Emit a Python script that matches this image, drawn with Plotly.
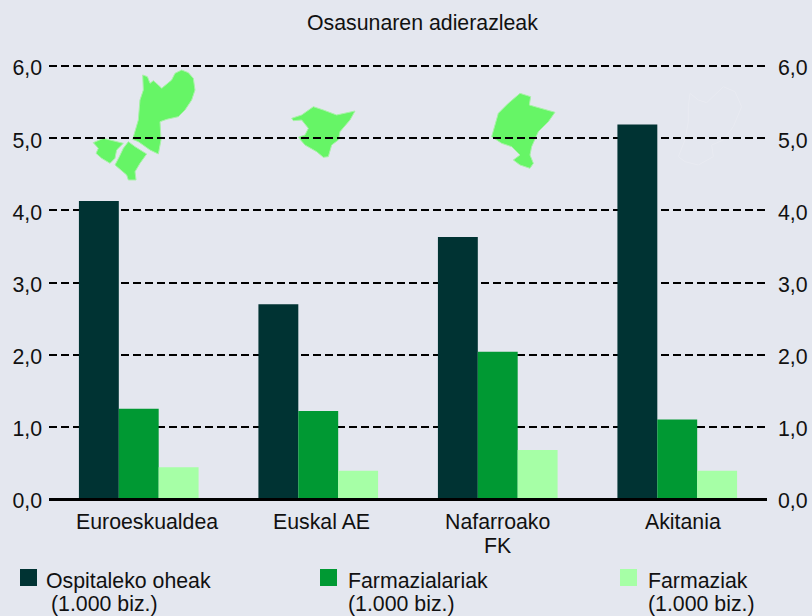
import plotly.graph_objects as go

title = "Osasunaren adierazleak"
categories = ["Euroeskualdea", "Euskal AE", "Nafarroako", "Akitania"]
category_second_line = ["", "", "FK", ""]
hospital_beds = [4.13, 2.70, 3.63, 5.19]
pharmacists = [1.25, 1.22, 2.04, 1.10]
pharmacies = [0.44, 0.39, 0.68, 0.39]
series_names = ["Ospitaleko oheak", "Farmazialariak", "Farmaziak"]
series_sub = ["(1.000 biz.)", "(1.000 biz.)", "(1.000 biz.)"]
tick_values = [0, 1, 2, 3, 4, 5, 6]
tick_labels = ["0,0", "1,0", "2,0", "3,0", "4,0", "5,0", "6,0"]

W, H = 812, 616
L, R, T, B = 49, 767, 63, 499
Y_MAX = 6 * (B - T) / (B - 66)   # a little headroom so the 6,0 gridline is drawn
BG = "#E4E7EF"
DARK, MID, LIGHT = "#003333", "#009933", "#A6FFA6"
MAP = "#66F566"
FONT = "Liberation Sans"
TXT = "#111111"
FS = 21.3


def px(x):
    return (x - L) / (R - L)


def py(y):
    return (B - y) / (B - T)


def zoom_a(p):
    return (60 + p[0] / 3, 50 + p[1] / 3)


def zoom_b(p):
    return (440 + p[0] / 3, 50 + p[1] / 3)


MAP_OUTLINES = [
    (zoom_a, [(248,75),(262,80),(270,100),(280,92),(295,105),(305,115),(335,90),(345,70),(365,60),(385,68),(400,85),(405,120),(395,150),(375,180),(355,200),(320,208),(300,215),(303,270),(295,312),(270,300),(235,275),(218,268),(235,210),(240,150),(250,120)]),
    (zoom_a, [(100,278),(130,265),(190,280),(170,300),(165,325),(150,340),(125,325),(108,310),(115,295)]),
    (zoom_a, [(205,275),(225,290),(260,312),(240,340),(225,365),(228,390),(205,390),(200,375),(165,345),(178,320),(190,295)]),
    (zoom_a, [(695,205),(725,195),(760,170),(790,180),(830,195),(885,183),(870,210),(840,245),(835,270),(815,285),(805,320),(790,322),(770,305),(735,285),(715,262),(735,255),(745,235),(725,210),(700,212)]),
    (zoom_b, [(240,130),(272,140),(268,165),(285,170),(345,187),(325,215),(295,245),(275,290),(270,315),(280,340),(270,355),(240,345),(220,330),(240,315),(215,290),(185,280),(155,260),(175,190),(205,160)]),
]
FAINT_OUTLINE = (zoom_b, [(750,130),(775,150),(800,158),(850,110),(885,125),(905,170),(880,230),(850,270),(815,285),(820,320),(775,345),(735,335),(715,320),(735,270),(745,215),(745,170)])


def path(conv, pts):
    out = [conv(p) for p in pts]
    return "M" + "L".join(f"{px(x):.4f},{py(y):.4f}" for x, y in out) + "Z"


fig = go.Figure()
for name, vals, col in zip(series_names, [hospital_beds, pharmacists, pharmacies], [DARK, MID, LIGHT]):
    fig.add_trace(go.Bar(x=categories, y=vals, name=name, marker=dict(color=col, line_width=0), showlegend=False))
# invisible trace that carries the right-hand axis
fig.add_trace(go.Scatter(x=categories, y=hospital_beds, yaxis="y2", mode="markers",
                         marker=dict(opacity=0), showlegend=False, hoverinfo="skip"))

shapes = []
for conv, pts in MAP_OUTLINES:
    shapes.append(dict(type="path", xref="paper", yref="paper", path=path(conv, pts),
                       fillcolor=MAP, line=dict(color="#A8F2A8", width=1), layer="below"))
shapes.append(dict(type="path", xref="paper", yref="paper", path=path(*FAINT_OUTLINE),
                   fillcolor="rgba(0,0,0,0)", line=dict(color="#E9EBF2", width=1), layer="below"))
# heavy baseline
shapes.append(dict(type="rect", xref="paper", yref="paper", x0=0, x1=1, y0=py(498), y1=py(501),
                   fillcolor="#000000", line_width=0, layer="above"))

annotations = [dict(text=title, xref="paper", yref="paper", x=px(422), y=py(23), showarrow=False,
                    xanchor="center", yanchor="middle", font=dict(family=FONT, size=FS, color=TXT))]

# category labels sit slightly off the group centres in the reference
label_shift = [8, 3, 0, 6]
for cat, extra, dx in zip(categories, category_second_line, label_shift):
    annotations.append(dict(text=cat, xref="x", yref="paper", x=cat, y=py(522), xshift=dx, showarrow=False,
                            xanchor="center", yanchor="middle", font=dict(family=FONT, size=FS, color=TXT)))
    if extra:
        annotations.append(dict(text=extra, xref="x", yref="paper", x=cat, y=py(546), xshift=dx, showarrow=False,
                                xanchor="center", yanchor="middle", font=dict(family=FONT, size=FS, color=TXT)))

legend_x = [(20, 44, 49), (320, 346, 346), (620, 646, 646)]
legend_cols = [DARK, MID, LIGHT]
for i in range(3):
    x0, tx, sx = legend_x[i]
    shapes.append(dict(type="rect", xref="paper", yref="paper", x0=px(x0), x1=px(x0 + 17), y0=py(569), y1=py(586),
                       fillcolor=legend_cols[i], line_width=0, layer="above"))
    annotations.append(dict(text=series_names[i], xref="paper", yref="paper", x=px(tx), y=py(581), showarrow=False,
                            xanchor="left", yanchor="middle", font=dict(family=FONT, size=FS, color=TXT)))
    annotations.append(dict(text=series_sub[i], xref="paper", yref="paper", x=px(sx), y=py(604), showarrow=False,
                            xanchor="left", yanchor="middle", font=dict(family=FONT, size=FS, color=TXT)))

axis_font = dict(family=FONT, size=FS, color=TXT)
fig.update_layout(
    width=W, height=H, autosize=False,
    margin=dict(l=L, r=W - R, t=T, b=H - B, pad=0, autoexpand=False),
    paper_bgcolor=BG, plot_bgcolor=BG,
    barmode="group", bargap=1 / 3, bargroupgap=0,
    shapes=shapes, annotations=annotations,
    xaxis=dict(showline=False, ticks="", showgrid=False, zeroline=False,
               showticklabels=False, automargin=False),
    yaxis=dict(range=[0, Y_MAX], tickvals=tick_values, ticktext=tick_labels, tickfont=axis_font, showline=False,
               ticks="", zeroline=False, showgrid=True, gridcolor="#000000", gridwidth=1.5,
               griddash="8px,4px", ticklabelstandoff=6, ticklabelshift=2, automargin=False),
    yaxis2=dict(range=[0, Y_MAX], overlaying="y", side="right", tickvals=tick_values, ticktext=tick_labels,
                tickfont=axis_font, showline=False, ticks="", zeroline=False, showgrid=False,
                ticklabelstandoff=10, ticklabelshift=2, automargin=False),
)
fig.write_html("out.html", post_script="document.body.style.margin='0';", config={"displayModeBar": False})
